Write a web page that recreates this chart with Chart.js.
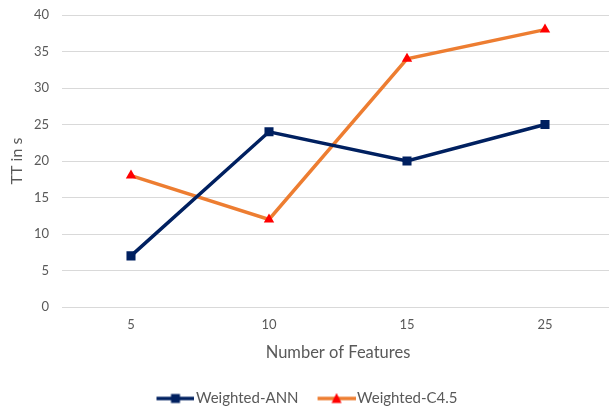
<!DOCTYPE html>
<html>
<head>
<meta charset="utf-8">
<script src="https://cdn.jsdelivr.net/npm/chart.js@4/dist/chart.umd.min.js"></script>
<style>
    /* canvas is a bit larger than the window; the plot runs past the right and bottom edges */
    body { margin: 0; background: #fff; overflow: hidden; }
</style>
</head>
<body>
<canvas id="myChart" width="614" height="416"></canvas>
<script>
const features = ['5', '10', '15', '25'];
const annTime = [7, 24, 20, 25];
const c45Time = [18, 12, 34, 38];

const navy = '#002060';
const orange = '#ED7D31';
const red = '#FF0000';
const textColor = '#595959';
const fontFamily = "Lato, 'Open Sans', sans-serif";

// legend swatch: line with the marker in the middle (left 6px kept empty)
function makeSwatch(lineColor, markerColor, shape) {
    let c = document.createElement('canvas');
    c.width = 44;
    c.height = 12;
    let ctx = c.getContext('2d');
    ctx.strokeStyle = lineColor;
    ctx.lineWidth = 3.5;
    ctx.beginPath();
    ctx.moveTo(6, 6);
    ctx.lineTo(44, 6);
    ctx.stroke();
    ctx.fillStyle = markerColor;
    ctx.beginPath();
    if (shape == 'rect') {
        ctx.rect(20.5, 1.5, 9, 9);
    } else {
        ctx.moveTo(25, 0.5);
        ctx.lineTo(30, 10.5);
        ctx.lineTo(20, 10.5);
        ctx.closePath();
    }
    ctx.fill();
    return c;
}

const annSwatch = makeSwatch(navy, navy, 'rect');
const c45Swatch = makeSwatch(orange, red, 'triangle');

new Chart('myChart', {
    type: 'line',
    data: {
        labels: features,
        datasets: [{
            label: 'Weighted-ANN',
            data: annTime,
            borderColor: navy,
            backgroundColor: navy,
            borderWidth: 3.5,
            pointStyle: 'rect',
            pointRadius: 6.4,
            pointBorderWidth: 0,
            pointBackgroundColor: navy,
            tension: 0
        }, {
            label: 'Weighted-C4.5',
            data: c45Time,
            borderColor: orange,
            backgroundColor: orange,
            borderWidth: 3.5,
            pointStyle: 'triangle',
            pointRadius: 6,
            pointBorderWidth: 0,
            pointBackgroundColor: red,
            tension: 0
        }]
    },
    options: {
        responsive: false,
        animation: false,
        layout: { autoPadding: false, padding: { left: 0, right: 0, top: 15, bottom: 0 } },
        plugins: {
            tooltip: { enabled: false },
            legend: {
                position: 'bottom',
                labels: {
                    color: textColor,
                    font: { family: fontFamily, size: 15 },
                    usePointStyle: true,
                    pointStyleWidth: 32,
                    padding: 19,
                    generateLabels: function (chart) {
                        return chart.data.datasets.map(function (ds, i) {
                            return {
                                text: ds.label,
                                fontColor: textColor,
                                pointStyle: i == 0 ? annSwatch : c45Swatch,
                                datasetIndex: i,
                                lineWidth: 0,
                                hidden: false
                            };
                        });
                    }
                }
            }
        },
        scales: {
            x: {
                offset: true,
                grid: { display: false, drawTicks: false },
                border: { display: false },
                ticks: { color: textColor, font: { family: fontFamily, size: 13 }, padding: 10 },
                title: {
                    display: true,
                    text: 'Number of Features',
                    color: textColor,
                    font: { family: fontFamily, size: 16.5 },
                    padding: { top: 4, bottom: 9 }
                },
                afterFit: function (scale) {
                    scale.height = 65;
                    scale.paddingLeft = 0;
                    scale.paddingRight = 0;
                }
            },
            y: {
                min: 0,
                max: 40,
                ticks: { stepSize: 5, color: textColor, font: { family: fontFamily, size: 13 }, padding: 13 },
                grid: { color: '#d9d9d9', lineWidth: 1, drawTicks: false },
                border: { display: false },
                title: {
                    display: true,
                    text: 'TT in s',
                    color: textColor,
                    font: { family: fontFamily, size: 16 },
                    padding: { top: 7, bottom: 0 }
                },
                afterFit: function (scale) {
                    scale.width = 62;
                    scale.paddingTop = 0;
                    scale.paddingBottom = 0;
                }
            }
        }
    }
});
</script>
</body>
</html>
